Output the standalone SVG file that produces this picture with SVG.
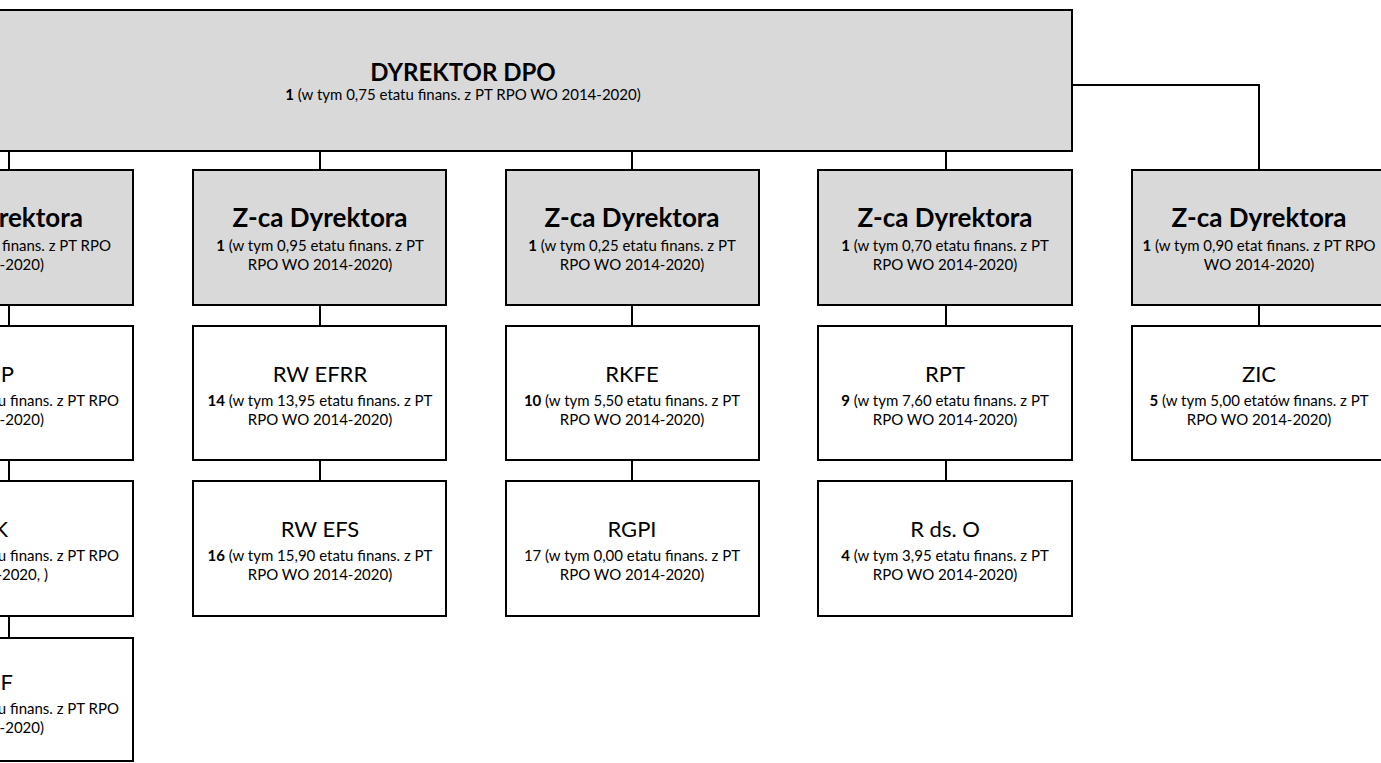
<svg xmlns="http://www.w3.org/2000/svg" width="1381" height="763" viewBox="0 0 1381 763">
  <style>
    .box { stroke: #000; stroke-width: 2; }
    .grey { fill: #D9D9D9; }
    .white { fill: #FFFFFF; }
    text { font-family: Lato, "Open Sans", sans-serif; fill: #000; text-anchor: middle; }
    .end { text-anchor: end; }
    .h0 { font-weight: bold; font-size: 24px; }
    .h1 { font-weight: bold; font-size: 26px; }
    .h2 { font-size: 22px; }
    .s { font-size: 15px; }
    .b { font-weight: bold; }
    #connectors path { stroke: #000; stroke-width: 2; fill: none; }
  </style>

  <!-- connectors -->
  <g id="connectors">
    <path d="M9 151V170M320 151V170M632 151V170M946 151V170"/>
    <path d="M1072 85H1259V170"/>
    <path d="M9 305V326M320 305V326M632 305V326M946 305V326M1259 305V326"/>
    <path d="M9 460V481M320 460V481M632 460V481M946 460V481"/>
    <path d="M9 616V638"/>
  </g>

  <!-- top level -->
  <g id="dyrektor">
    <rect class="box grey" x="-147" y="10" width="1219" height="141"/>
    <text class="h0" x="463" y="81">DYREKTOR DPO</text>
    <text class="s" x="463" y="100"><tspan class="b">1</tspan> (w tym 0,75 etatu finans. z PT RPO WO 2014-2020)</text>
  </g>

  <!-- deputies -->
  <g id="zca1">
    <rect class="box grey" x="-147" y="170" width="280" height="135"/>
    <text class="h1 end" x="83" y="227">Z-ca Dyrektora</text>
    <text class="s end" x="111" y="251">u finans. z PT RPO</text>
    <text class="s end" x="44" y="270">4-2020)</text>
  </g>
  <g id="zca2">
    <rect class="box grey" x="193" y="170" width="253" height="135"/>
    <text class="h1" x="320" y="227">Z-ca Dyrektora</text>
    <text class="s" x="320" y="251"><tspan class="b">1</tspan> (w tym 0,95 etatu finans. z PT</text>
    <text class="s" x="320" y="270">RPO WO 2014-2020)</text>
  </g>
  <g id="zca3">
    <rect class="box grey" x="506" y="170" width="253" height="135"/>
    <text class="h1" x="632" y="227">Z-ca Dyrektora</text>
    <text class="s" x="632" y="251"><tspan class="b">1</tspan> (w tym 0,25 etatu finans. z PT</text>
    <text class="s" x="632" y="270">RPO WO 2014-2020)</text>
  </g>
  <g id="zca4">
    <rect class="box grey" x="818" y="170" width="254" height="135"/>
    <text class="h1" x="945" y="227">Z-ca Dyrektora</text>
    <text class="s" x="945" y="251"><tspan class="b">1</tspan> (w tym 0,70 etatu finans. z PT</text>
    <text class="s" x="945" y="270">RPO WO 2014-2020)</text>
  </g>
  <g id="zca5">
    <rect class="box grey" x="1132" y="170" width="254" height="135"/>
    <text class="h1" x="1259" y="227">Z-ca Dyrektora</text>
    <text class="s" x="1259" y="251"><tspan class="b">1</tspan> (w tym 0,90 etat finans. z PT RPO</text>
    <text class="s" x="1259" y="270">WO 2014-2020)</text>
  </g>

  <!-- column 1 -->
  <g id="col1-r2">
    <rect class="box white" x="-147" y="326" width="280" height="134"/>
    <text class="h2 end" x="14" y="382">P</text>
    <text class="s end" x="119" y="406">tu finans. z PT RPO</text>
    <text class="s end" x="44" y="425">4-2020)</text>
  </g>
  <g id="col1-r3">
    <rect class="box white" x="-147" y="481" width="280" height="135"/>
    <text class="h2 end" x="8" y="537">K</text>
    <text class="s end" x="119" y="561">tu finans. z PT RPO</text>
    <text class="s end" x="48" y="580">-2020, )</text>
  </g>
  <g id="col1-r4">
    <rect class="box white" x="-147" y="638" width="280" height="123"/>
    <text class="h2 end" x="13" y="690">F</text>
    <text class="s end" x="119" y="714">tu finans. z PT RPO</text>
    <text class="s end" x="44" y="733">4-2020)</text>
  </g>

  <!-- column 2 -->
  <g id="rw-efrr">
    <rect class="box white" x="193" y="326" width="253" height="134"/>
    <text class="h2" x="320" y="382">RW EFRR</text>
    <text class="s" x="320" y="406"><tspan class="b">14</tspan> (w tym 13,95 etatu finans. z PT</text>
    <text class="s" x="320" y="425">RPO WO 2014-2020)</text>
  </g>
  <g id="rw-efs">
    <rect class="box white" x="193" y="481" width="253" height="135"/>
    <text class="h2" x="320" y="537">RW EFS</text>
    <text class="s" x="320" y="561"><tspan class="b">16</tspan> (w tym 15,90 etatu finans. z PT</text>
    <text class="s" x="320" y="580">RPO WO 2014-2020)</text>
  </g>

  <!-- column 3 -->
  <g id="rkfe">
    <rect class="box white" x="506" y="326" width="253" height="134"/>
    <text class="h2" x="632" y="382">RKFE</text>
    <text class="s" x="632" y="406"><tspan class="b">10</tspan> (w tym 5,50 etatu finans. z PT</text>
    <text class="s" x="632" y="425">RPO WO 2014-2020)</text>
  </g>
  <g id="rgpi">
    <rect class="box white" x="506" y="481" width="253" height="135"/>
    <text class="h2" x="632" y="537">RGPI</text>
    <text class="s" x="632" y="561">17 (w tym 0,00 etatu finans. z PT</text>
    <text class="s" x="632" y="580">RPO WO 2014-2020)</text>
  </g>

  <!-- column 4 -->
  <g id="rpt">
    <rect class="box white" x="818" y="326" width="254" height="134"/>
    <text class="h2" x="945" y="382">RPT</text>
    <text class="s" x="945" y="406"><tspan class="b">9</tspan> (w tym 7,60 etatu finans. z PT</text>
    <text class="s" x="945" y="425">RPO WO 2014-2020)</text>
  </g>
  <g id="r-ds-o">
    <rect class="box white" x="818" y="481" width="254" height="135"/>
    <text class="h2" x="945" y="537">R ds. O</text>
    <text class="s" x="945" y="561"><tspan class="b">4</tspan> (w tym 3,95 etatu finans. z PT</text>
    <text class="s" x="945" y="580">RPO WO 2014-2020)</text>
  </g>

  <!-- column 5 -->
  <g id="zic">
    <rect class="box white" x="1132" y="326" width="254" height="134"/>
    <text class="h2" x="1259" y="382">ZIC</text>
    <text class="s" x="1259" y="406"><tspan class="b">5</tspan> (w tym 5,00 etatów finans. z PT</text>
    <text class="s" x="1259" y="425">RPO WO 2014-2020)</text>
  </g>
</svg>
